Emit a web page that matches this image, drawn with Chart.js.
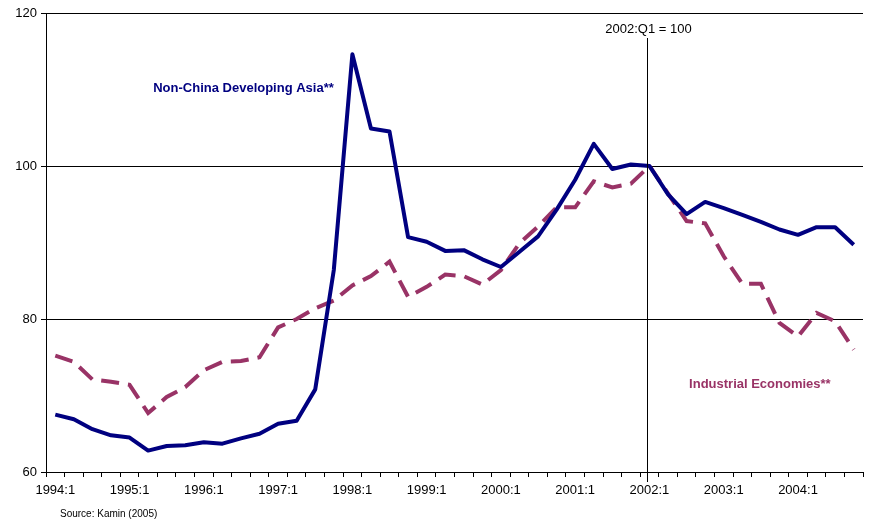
<!DOCTYPE html>
<html>
<head>
<meta charset="utf-8">
<script src="https://cdn.jsdelivr.net/npm/chart.js@4/dist/chart.umd.min.js"></script>
<style>
  body { margin: 0; background: #fff; }
  canvas { display: block; }
</style>
</head>
<body>
<canvas id="chart" width="879" height="523"></canvas>
<script>
var quarters = [
  '1994:1','1994:2','1994:3','1994:4','1995:1','1995:2','1995:3','1995:4',
  '1996:1','1996:2','1996:3','1996:4','1997:1','1997:2','1997:3','1997:4',
  '1998:1','1998:2','1998:3','1998:4','1999:1','1999:2','1999:3','1999:4',
  '2000:1','2000:2','2000:3','2000:4','2001:1','2001:2','2001:3','2001:4',
  '2002:1','2002:2','2002:3','2002:4','2003:1','2003:2','2003:3','2003:4',
  '2004:1','2004:2','2004:3','2004:4'
]

var nonChinaAsia = [
  67.5, 66.9, 65.6, 64.8, 64.5, 62.8, 63.4, 63.5,
  63.9, 63.7, 64.4, 65.0, 66.3, 66.7, 70.8, 86.4,
  114.6, 104.9, 104.5, 90.7, 90.1, 88.9, 89.0, 87.8,
  86.8, 88.8, 90.8, 94.3, 98.2, 102.9, 99.6, 100.2,
  100.0, 96.3, 93.7, 95.3, 94.5, 93.6, 92.7, 91.7,
  91.0, 92.0, 92.0, 89.7
]

var industrial = [
  75.2, 74.4, 72.1, 71.8, 71.4, 67.7, 69.8, 71.1,
  73.3, 74.4, 74.5, 75.0, 78.9, 80.0, 81.4, 82.4,
  84.4, 85.6, 87.5, 82.9, 84.2, 85.8, 85.6, 84.5,
  86.4, 89.9, 92.1, 94.6, 94.6, 98.0, 97.2, 97.7,
  100.0, 96.4, 92.8, 92.5, 88.2, 84.6, 84.6, 79.5,
  77.7, 80.8, 79.7, 76.0
]

var yTicks = [60, 80, 100, 120]
var baseQuarter = '2002:1'

var font = 'Arial, "Liberation Sans", sans-serif'

var annotations = {
  id: 'annotations',
  afterDatasetsDraw: function(chart) {
    var ctx = chart.ctx
    var xs = chart.scales.x
    var ys = chart.scales.y
    var baseX = Math.round(xs.getPixelForValue(quarters.indexOf(baseQuarter))) - 1.5
    ctx.save()
    // base period marker
    ctx.strokeStyle = '#000'
    ctx.lineWidth = 1
    ctx.beginPath()
    ctx.moveTo(baseX, ys.top + 25)
    ctx.lineTo(baseX, ys.bottom + 10)
    ctx.stroke()

    ctx.fillStyle = '#000'
    ctx.font = '13px ' + font
    ctx.textAlign = 'center'
    ctx.textBaseline = 'middle'
    ctx.fillText('2002:Q1 = 100', baseX + 1, ys.top + 16)

    // series labels
    ctx.font = 'bold 13px ' + font
    ctx.fillStyle = '#000080'
    ctx.textAlign = 'right'
    ctx.fillText('Non-China Developing Asia**', xs.getPixelForValue(15), ys.getPixelForValue(110.1))

    ctx.fillStyle = '#993366'
    ctx.textAlign = 'center'
    ctx.fillText('Industrial Economies**', xs.getPixelForValue(38) - 1, ys.getPixelForValue(71.5))

    // source
    ctx.fillStyle = '#000'
    ctx.font = '10px ' + font
    ctx.textAlign = 'left'
    ctx.fillText('Source: Kamin (2005)', 60, chart.height - 9)
    ctx.restore()
  }
}

var chart = new Chart(document.getElementById('chart'), {
  type: 'line',
  data: {
    labels: quarters,
    datasets: [{
      label: 'Non-China Developing Asia**',
      data: nonChinaAsia,
      borderColor: '#000080',
      borderWidth: 4,
      borderJoinStyle: 'round',
      pointRadius: 0,
      tension: 0,
      fill: false
    }, {
      label: 'Industrial Economies**',
      data: industrial,
      borderColor: '#993366',
      borderWidth: 4,
      borderDash: [18, 9],
      pointRadius: 0,
      tension: 0,
      fill: false
    }]
  },
  options: {
    responsive: false,
    animation: false,
    layout: { padding: { left: 0, right: 16, top: 13, bottom: 0 } },
    plugins: {
      legend: { display: false },
      tooltip: { enabled: false }
    },
    scales: {
      x: {
        type: 'category',
        offset: true,
        afterFit: function(scale) { scale.height = 51 },
        border: { display: true, color: '#000', width: 1 },
        grid: {
          offset: true,
          drawOnChartArea: false,
          drawTicks: true,
          tickLength: 5,
          color: '#000'
        },
        ticks: {
          autoSkip: false,
          maxRotation: 0,
          color: '#000',
          padding: 6,
          font: { family: font, size: 13 },
          callback: function(value, index) {
            return index % 4 === 0 ? quarters[index] : ''
          }
        }
      },
      y: {
        min: yTicks[0],
        max: yTicks[yTicks.length - 1],
        afterFit: function(scale) { scale.width = 46 },
        afterBuildTicks: function(scale) {
          scale.ticks = yTicks.map(function(v) { return { value: v } })
        },
        border: { display: true, color: '#000', width: 1 },
        grid: {
          color: '#000',
          lineWidth: 1,
          tickLength: 5
        },
        ticks: {
          color: '#000',
          padding: 4,
          font: { family: font, size: 13 }
        }
      }
    }
  },
  plugins: [annotations]
})
</script>
</body>
</html>
